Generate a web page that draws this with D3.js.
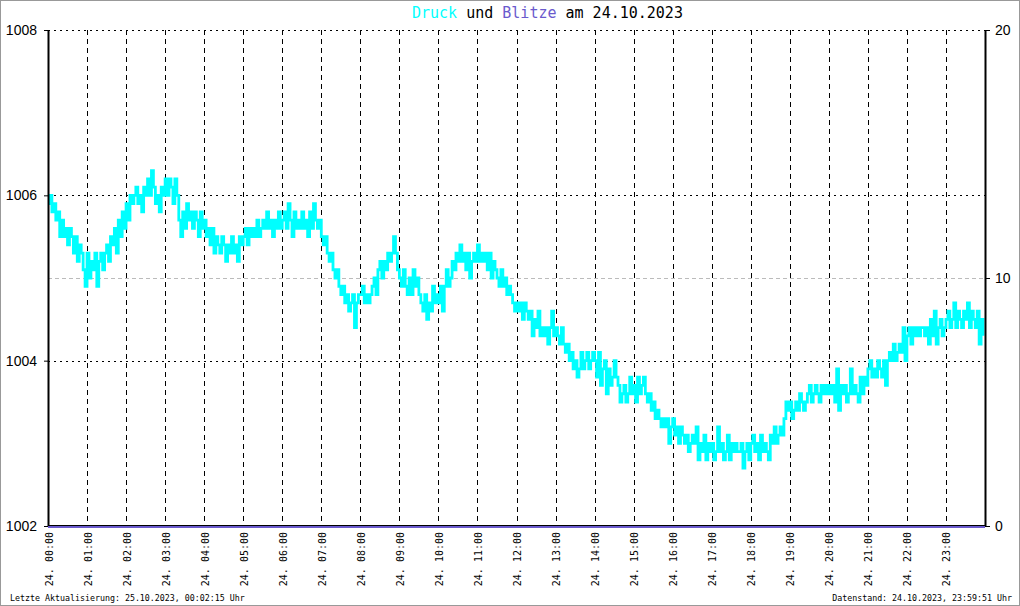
<!DOCTYPE html>
<html><head><meta charset="utf-8">
<script src="https://cdn.jsdelivr.net/npm/d3@7"></script>
<style>body{margin:0;background:#fff}svg{display:block}</style>
</head><body><svg id="c" width="1020" height="606"></svg>
<script>
// ---- data ----
const hourLabels = ["24. 00:00","24. 01:00","24. 02:00","24. 03:00","24. 04:00","24. 05:00","24. 06:00","24. 07:00","24. 08:00","24. 09:00","24. 10:00","24. 11:00","24. 12:00","24. 13:00","24. 14:00","24. 15:00","24. 16:00","24. 17:00","24. 18:00","24. 19:00","24. 20:00","24. 21:00","24. 22:00","24. 23:00"];
const pressureTicks = [1002, 1004, 1006, 1008];
const lightningTicks = [0, 10, 20];
const sampleStepMinutes = 3;
const pressure = [
// 00
1005.9,1006.0,1005.8,1005.9,1005.7,1005.8,1005.5,1005.7,1005.5,1005.6,1005.4,1005.6,1005.5,1005.3,1005.5,1005.2,1005.4,1005.3,1005.1,1004.9,
// 01
1005.3,1005.0,1005.2,1005.1,1005.3,1004.9,1005.2,1005.3,1005.1,1005.3,1005.4,1005.2,1005.5,1005.4,1005.6,1005.3,1005.7,1005.5,1005.8,1005.6,
// 02
1005.9,1005.7,1006.0,1005.9,1006.0,1006.1,1005.9,1006.0,1005.8,1006.1,1006.0,1006.2,1006.0,1006.3,1006.1,1005.9,1006.0,1005.8,1006.1,1006.0,
// 03
1006.2,1006.0,1006.2,1006.1,1005.9,1006.2,1006.0,1005.7,1005.5,1005.8,1005.6,1005.9,1005.7,1005.8,1005.6,1005.8,1005.7,1005.5,1005.8,1005.6,
// 04
1005.7,1005.5,1005.6,1005.4,1005.6,1005.3,1005.5,1005.4,1005.3,1005.5,1005.4,1005.2,1005.4,1005.3,1005.5,1005.3,1005.4,1005.2,1005.5,1005.4,
// 05
1005.5,1005.6,1005.4,1005.6,1005.5,1005.6,1005.5,1005.7,1005.5,1005.6,1005.7,1005.6,1005.8,1005.6,1005.7,1005.5,1005.7,1005.6,1005.8,1005.6,
// 06
1005.7,1005.8,1005.6,1005.9,1005.7,1005.5,1005.8,1005.6,1005.7,1005.6,1005.8,1005.6,1005.7,1005.5,1005.8,1005.6,1005.9,1005.7,1005.6,1005.7,
// 07
1005.5,1005.4,1005.5,1005.3,1005.2,1005.3,1005.1,1005.0,1005.1,1004.9,1004.8,1004.9,1004.7,1004.8,1004.6,1004.7,1004.8,1004.4,1004.7,1004.8,
// 08
1004.8,1004.9,1004.7,1004.8,1004.7,1004.8,1004.9,1005.0,1004.8,1005.1,1005.2,1005.0,1005.2,1005.1,1005.3,1005.2,1005.3,1005.5,1005.3,1005.1,
// 09
1005.0,1004.9,1005.1,1004.9,1004.8,1005.0,1004.8,1005.1,1004.9,1005.0,1004.8,1004.7,1004.6,1004.8,1004.5,1004.7,1004.6,1004.9,1004.7,1004.8,
// 10
1004.7,1004.9,1004.6,1004.9,1005.1,1004.9,1005.0,1005.2,1005.1,1005.3,1005.2,1005.4,1005.2,1005.3,1005.1,1005.3,1005.0,1005.2,1005.3,1005.2,
// 11
1005.4,1005.2,1005.3,1005.2,1005.3,1005.1,1005.3,1005.0,1005.2,1005.1,1005.0,1004.9,1005.1,1004.9,1005.0,1004.8,1004.9,1004.8,1004.7,1004.6,
// 12
1004.7,1004.6,1004.7,1004.5,1004.7,1004.6,1004.5,1004.6,1004.3,1004.5,1004.4,1004.6,1004.3,1004.4,1004.3,1004.4,1004.2,1004.4,1004.6,1004.3,
// 13
1004.4,1004.3,1004.2,1004.4,1004.2,1004.1,1004.2,1004.0,1004.1,1003.9,1004.0,1003.8,1003.9,1004.1,1003.9,1004.0,1004.1,1003.9,1004.0,1004.1,
// 14
1004.0,1003.8,1004.1,1003.7,1003.9,1004.0,1003.6,1003.9,1003.7,1003.8,1004.0,1003.8,1003.7,1003.5,1003.6,1003.7,1003.5,1003.6,1003.8,1003.6,
// 15
1003.7,1003.5,1003.8,1003.6,1003.7,1003.8,1003.6,1003.5,1003.6,1003.4,1003.5,1003.3,1003.4,1003.3,1003.2,1003.3,1003.2,1003.3,1003.0,1003.2,
// 16
1003.3,1003.1,1003.2,1003.0,1003.2,1003.1,1003.0,1003.1,1002.9,1003.0,1003.1,1003.0,1003.2,1002.8,1003.0,1002.9,1003.1,1002.8,1003.0,1002.9,
// 17
1003.0,1002.8,1002.9,1003.2,1002.9,1003.0,1002.8,1002.9,1003.1,1002.8,1003.0,1002.9,1003.0,1002.9,1002.9,1003.0,1002.7,1002.9,1003.0,1002.8,
// 18
1003.0,1003.1,1002.9,1003.0,1002.8,1003.1,1002.9,1003.0,1002.9,1002.8,1003.1,1003.0,1003.2,1003.0,1003.1,1003.2,1003.1,1003.3,1003.5,1003.4,
// 19
1003.5,1003.3,1003.4,1003.5,1003.4,1003.6,1003.5,1003.4,1003.5,1003.6,1003.7,1003.5,1003.6,1003.7,1003.6,1003.5,1003.7,1003.6,1003.7,1003.6,
// 20
1003.7,1003.6,1003.7,1003.5,1003.9,1003.4,1003.7,1003.6,1003.7,1003.5,1003.6,1003.9,1003.6,1003.7,1003.6,1003.5,1003.8,1003.6,1003.8,1003.7,
// 21
1003.9,1004.0,1003.8,1003.9,1003.8,1004.0,1003.9,1003.8,1004.0,1003.7,1004.0,1004.1,1004.0,1004.2,1004.0,1004.1,1004.2,1004.1,1004.4,1004.0,
// 22
1004.3,1004.4,1004.2,1004.4,1004.3,1004.4,1004.3,1004.4,1004.4,1004.3,1004.4,1004.2,1004.5,1004.3,1004.6,1004.2,1004.4,1004.5,1004.3,1004.4,
// 23
1004.5,1004.6,1004.4,1004.5,1004.7,1004.4,1004.6,1004.5,1004.4,1004.6,1004.5,1004.7,1004.4,1004.6,1004.5,1004.4,1004.6,1004.2,1004.5,1004.3
];
const lightningMinutes = [0, 1440];
const lightningCounts = [0, 0];
const titleParts = [["Druck","#00ffff"],[" und ","#000"],["Blitze","#6a5acd"],[" am 24.10.2023","#000"]];
const footerLeft = "Letzte Aktualisierung: 25.10.2023, 00:02:15 Uhr";
const footerRight = "Datenstand: 24.10.2023, 23:59:51 Uhr";

// ---- drawing ----
const svg = d3.select("#c");
const L = 48, R = 985, T = 30, B = 526;
const x = d3.scaleLinear().domain([0, 1440]).range([L, R]);
const y = d3.scaleLinear().domain([1002, 1008]).range([B, T]);
const y2 = d3.scaleLinear().domain([0, 20]).range([B, T]);

svg.append("rect").attr("x",0.5).attr("y",0.5).attr("width",1019).attr("height",605)
  .attr("fill","#fff").attr("stroke","#999");

// title
const title = svg.append("text").attr("x", 412).attr("y", 18)
  .attr("font-family","DejaVu Sans Mono, monospace").attr("font-size", 15).attr("style","white-space:pre");
titleParts.forEach(([t,c]) => title.append("tspan").attr("fill", c).text(t));

// horizontal grid (pressure majors)
svg.append("g").selectAll("line").data(pressureTicks.filter(d => d > 1002)).join("line")
  .attr("x1", L).attr("x2", R).attr("y1", d => Math.round(y(d)) + 0.5).attr("y2", d => Math.round(y(d)) + 0.5)
  .attr("stroke","#000").attr("stroke-dasharray","2,4");
// lightning mid grid
svg.append("g").selectAll("line").data(lightningTicks.filter(d => d > 0 && d < 20)).join("line")
  .attr("x1", L).attr("x2", R).attr("y1", d => Math.round(y2(d)) + 0.5).attr("y2", d => Math.round(y2(d)) + 0.5)
  .attr("stroke","#bbb").attr("stroke-dasharray","4,3");

// vertical hour grid
const hours = d3.range(hourLabels.length);
svg.append("g").selectAll("line").data(hours.slice(1)).join("line")
  .attr("x1", d => Math.round(x(d*60)) + 0.5).attr("x2", d => Math.round(x(d*60)) + 0.5)
  .attr("y1", T).attr("y2", B)
  .attr("stroke","#000").attr("stroke-dasharray","5,4");

// pressure line
const pts = pressure.map((v,i) => [i * sampleStepMinutes, v]);
svg.append("path").datum(pts)
  .attr("d", d3.line().x(d => x(d[0])).y(d => y(d[1])).curve(d3.curveStepAfter))
  .attr("fill","none").attr("stroke","#00ffff").attr("stroke-width", 2.8);

// axes
const axL = svg.append("g").attr("transform", `translate(${L},0)`)
  .call(d3.axisLeft(y).tickValues(pressureTicks).tickSize(4).tickSizeOuter(0).tickPadding(7).tickFormat(d3.format("d")));
const axR = svg.append("g").attr("transform", `translate(${R},0)`)
  .call(d3.axisRight(y2).tickValues(lightningTicks).tickSize(5).tickSizeOuter(0).tickPadding(5).tickFormat(d3.format("d")));
[axL, axR].forEach(a => {
  a.select(".domain").attr("stroke","#000").attr("stroke-width",2);
  a.selectAll(".tick line").attr("stroke","#000");
  a.selectAll("text").attr("font-family","Liberation Sans, Arial, sans-serif").attr("font-size",14).attr("fill","#000");
});

// lightning zero line + x axis
svg.append("line").attr("x1", L).attr("x2", R).attr("y1", B - 0.5).attr("y2", B - 0.5).attr("stroke","#000");
const lz = lightningMinutes.map((m,i) => [m, lightningCounts[i]]);
svg.append("path").datum(lz)
  .attr("d", d3.line().x(d => x(d[0])).y(d => y2(d[1]) + 1))
  .attr("fill","none").attr("stroke","#6a5acd").attr("stroke-width",2);

// hour labels
svg.append("g").selectAll("text").data(hours).join("text")
  .attr("transform", d => `translate(${x(d*60)+1},532) rotate(-90)`)
  .attr("text-anchor","end").attr("dy","0.35em")
  .attr("font-family","DejaVu Sans Mono, monospace").attr("font-size",10)
  .text(d => hourLabels[d]);

// footer
svg.append("text").attr("x",10).attr("y",601).attr("font-family","DejaVu Sans Mono, monospace")
  .attr("font-size",8.3).text(footerLeft);
svg.append("text").attr("x",1012).attr("y",601).attr("text-anchor","end").attr("font-family","DejaVu Sans Mono, monospace")
  .attr("font-size",8.3).text(footerRight);
</script>
</body></html>
